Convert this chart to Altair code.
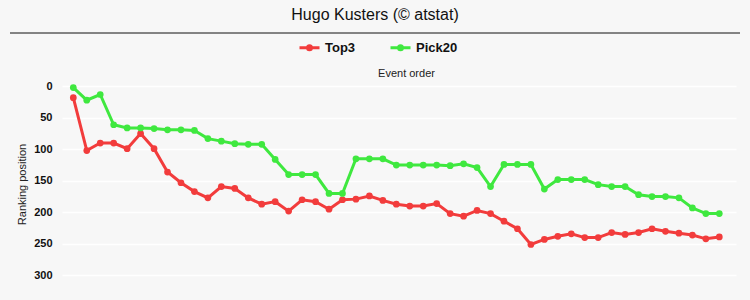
import altair as alt
import pandas as pd

events = list(range(1, 50))
top3 = [18, 102, 90, 90, 99, 75, 99, 136, 153, 167, 177, 159, 162, 177, 187, 183,
        198, 180, 183, 195, 180, 179, 174, 181, 187, 190, 190, 186, 202, 206, 197,
        202, 214, 226, 251, 243, 238, 234, 240, 240, 232, 235, 232, 226, 230, 233,
        236, 242, 239]
pick20 = [2, 22, 13, 61, 66, 66, 67, 69, 69, 70, 83, 87, 91, 92, 92, 116, 140, 140,
          140, 170, 170, 115, 115, 115, 125, 125, 125, 125, 126, 123, 129, 159, 124,
          124, 124, 163, 148, 148, 148, 156, 159, 159, 172, 175, 175, 177, 193, 202,
          202]
series_names = ["Top3", "Pick20"]
series_colors = ["#f23c3c", "#3fe83f"]
y_ticks = [0, 50, 100, 150, 200, 250, 300]

df = pd.DataFrame({
    "event": events + events,
    "rank": top3 + pick20,
    "series": ["Top3"] * len(top3) + ["Pick20"] * len(pick20),
})

FONT = "Liberation Sans"

x_enc = alt.X(
    "event:Q",
    scale=alt.Scale(domain=[0.16, 50.24], nice=False, zero=False),
    axis=alt.Axis(orient="top", title="Event order", labels=False, ticks=False,
                  domain=False, grid=False, titleX=344, titleY=-4,
                  titleAlign="center", titleBaseline="alphabetic",
                  titleFontWeight="normal", titleFontSize=11, titleColor="#222",
                  titleFont=FONT),
)
y_enc = alt.Y(
    "rank:Q",
    scale=alt.Scale(domain=[-10, 320], nice=False, zero=False, reverse=True),
    axis=alt.Axis(values=y_ticks, title="Ranking position", ticks=False,
                  domain=False, grid=True, gridColor="#ffffff", gridWidth=1.5,
                  labelFontWeight="bold", labelFontSize=11, labelColor="#111",
                  labelPadding=10, labelFont=FONT, titleFont=FONT,
                  titleFontWeight="normal", titleFontSize=11, titleColor="#222",
                  titlePadding=6),
)
color_enc = alt.Color(
    "series:N",
    scale=alt.Scale(domain=series_names, range=series_colors),
    legend=alt.Legend(
        title=None, orient="none", legendX=236, legendY=-44,
        direction="horizontal",
        symbolType="M-1,0L1,0M-0.2,0A0.2,0.2,0,1,1,0.2,0A0.2,0.2,0,1,1,-0.2,0",
        symbolSize=400, symbolStrokeWidth=3, labelFontSize=13,
        labelFontWeight="bold", labelFont=FONT, labelColor="#111",
        labelOffset=4, columnPadding=28,
    ),
)

base = alt.Chart(df).encode(x=x_enc, y=y_enc, color=color_enc,
                            order=alt.Order("event:Q"))
lines = base.mark_line(strokeWidth=3)
points = base.mark_point(filled=True, size=45, opacity=1)

rule = alt.Chart(pd.DataFrame({"a": [0]})).mark_rule(
    color="#111", strokeWidth=1
).encode(x=alt.value(-52), x2=alt.value(678), y=alt.value(-47))

chart = alt.layer(rule, lines, points).properties(
    width=674,
    height=208,
    autosize="none",
    padding={"left": 62, "top": 80, "right": 14, "bottom": 12},
    background="#f7f7f7",
    title=alt.TitleParams("Hugo Kusters (© atstat)", fontSize=16,
                          fontWeight="normal", font=FONT, color="#111",
                          anchor="middle", frame="group", dx=-24, offset=10),
).configure(font=FONT, view=alt.ViewConfig(stroke=None))

chart.save("out.html", embed_options={"renderer": "svg", "actions": False})
